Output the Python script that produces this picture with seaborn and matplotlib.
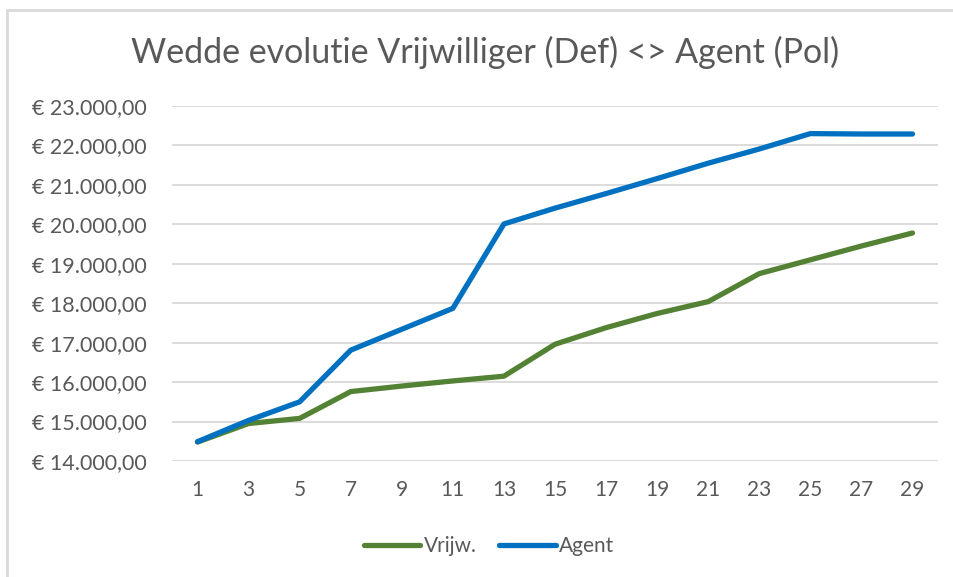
import pandas as pd
import matplotlib
matplotlib.use("agg")
import matplotlib.pyplot as plt
from matplotlib.lines import Line2D
import seaborn as sns

jaren = [1, 3, 5, 7, 9, 11, 13, 15, 17, 19, 21, 23, 25, 27, 29]
vrijw = [14480, 14950, 15080, 15760, 15900, 16030, 16150, 16960, 17380, 17740,
         18040, 18750, 19100, 19450, 19780]
agent = [14490, 15030, 15500, 16810, 17340, 17870, 20010, 20410, 20780, 21160,
         21550, 21910, 22300, 22290, 22290]
y_ticks = [14000, 15000, 16000, 17000, 18000, 19000, 20000, 21000, 22000, 23000]

df = pd.DataFrame({"jaar": jaren, "Vrijw.": vrijw, "Agent": agent})
long_df = df.melt(id_vars="jaar", var_name="reeks", value_name="wedde")

sns.set_style("white")
plt.rcParams["font.family"] = ["Lato", "DejaVu Sans"]

grey = "#595959"
fig = plt.figure(figsize=(9.54, 5.77), dpi=100)
ax = fig.add_axes([172 / 954, 1 - 461 / 577, (938 - 172) / 954, (461 - 106) / 577])

sns.lineplot(data=long_df, x="jaar", y="wedde", hue="reeks",
             palette={"Vrijw.": "#548235", "Agent": "#0070C0"},
             linewidth=3.8, ax=ax, legend=False, solid_capstyle="round")

ax.set_xlim(0, 30)
ax.set_ylim(14000, 23000)
ax.set_xticks(jaren)
ax.set_xticklabels([str(j) for j in jaren])
ax.set_yticks(y_ticks)
ax.set_yticklabels(["€ " + f"{v:,.2f}".replace(",", "X").replace(".", ",").replace("X", ".")
                    for v in y_ticks])
ax.set_xlabel("")
ax.set_ylabel("")
ax.grid(axis="y", color="#D9D9D9", linewidth=1.3)
ax.set_axisbelow(True)
for s in ax.spines.values():
    s.set_visible(False)
ax.tick_params(axis="both", length=0, colors=grey)
ax.tick_params(axis="y", pad=18, labelsize=15.5)
ax.tick_params(axis="x", pad=14, labelsize=15)

fig.text(0.508, 1 - 52 / 577, "Wedde evolutie Vrijwilliger (Def) <> Agent (Pol)",
         ha="center", va="center", fontsize=24.5, color=grey)

handles = [Line2D([], [], color="#548235", linewidth=3.8, solid_capstyle="round"),
           Line2D([], [], color="#0070C0", linewidth=3.8, solid_capstyle="round")]
fig.legend(handles, ["Vrijw.", "Agent"], loc="center", bbox_to_anchor=(489 / 954, 1 - 546 / 577),
           ncol=2, frameon=False, fontsize=15, labelcolor=grey, handlelength=2.7,
           handletextpad=0.15, columnspacing=1.1)

# rand van het grafiekgebied
fig.add_artist(Line2D([7 / 954, 7 / 954], [0, 1 - 10 / 577], transform=fig.transFigure,
                      color="#D9D9D9", linewidth=2))
fig.add_artist(Line2D([7 / 954, 1], [1 - 10 / 577, 1 - 10 / 577], transform=fig.transFigure,
                      color="#D9D9D9", linewidth=2))

fig.savefig("out.png", dpi=100)
